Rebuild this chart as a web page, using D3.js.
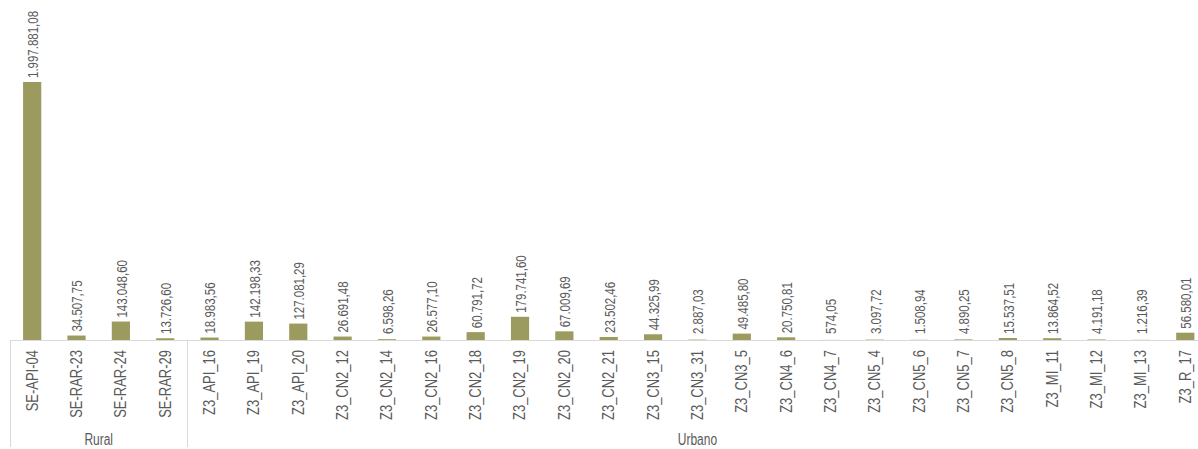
<!DOCTYPE html>
<html>
<head>
<meta charset="utf-8">
<script src="https://cdn.jsdelivr.net/npm/d3@7"></script>
<style>
  body { margin: 0; background: #fff; }
  svg { display: block; font-family: "Liberation Sans", Arial, sans-serif; }
</style>
</head>
<body>
<svg id="chart" width="1198" height="449"></svg>
<script>
// categories and values
const categories = [
  "SE-API-04", "SE-RAR-23", "SE-RAR-24", "SE-RAR-29",
  "Z3_API_16", "Z3_API_19", "Z3_API_20", "Z3_CN2_12", "Z3_CN2_14", "Z3_CN2_16",
  "Z3_CN2_18", "Z3_CN2_19", "Z3_CN2_20", "Z3_CN2_21", "Z3_CN3_15", "Z3_CN3_31",
  "Z3_CN3_5", "Z3_CN4_6", "Z3_CN4_7", "Z3_CN5_4", "Z3_CN5_6", "Z3_CN5_7",
  "Z3_CN5_8", "Z3_MI_11", "Z3_MI_12", "Z3_MI_13", "Z3_R_17"
];
const values = [
  1997881.08, 34507.75, 143048.60, 13726.60,
  18983.56, 142198.33, 127081.29, 26691.48, 6598.26, 26577.10,
  60791.72, 179741.60, 67009.69, 23502.46, 44325.99, 2887.03,
  49485.80, 20750.81, 574.05, 3097.72, 1508.94, 4890.25,
  15537.51, 13864.52, 4191.18, 1216.39, 56580.01
];
const groups = ["Rural", "Urbano"];
const groupSizes = [4, 23];

const BAR_COLOR = "#9b9a5f";
const TEXT_COLOR = "#5a5a5a";
const LINE_COLOR = "#d9d9d9";
const BASE_Y = 340;
const STRETCH = 1.2; // glyphs in the picture look taller than plain Arial

const svg = d3.select("#chart");

const x = d3.scaleBand()
  .domain(categories)
  .range([10, 10 + 44.35 * categories.length])
  .paddingInner(0.59)
  .paddingOuter(0.295);

const y = d3.scaleLinear()
  .domain([0, d3.max(values)])
  .range([BASE_Y, 82]);

const loc = d3.formatLocale({ decimal: ",", thousands: ".", grouping: [3], currency: ["", ""] });
const fmt = loc.format(",.2f");

const data = categories.map((c, i) => ({ cat: c, value: values[i] }));

// bars
svg.append("g").selectAll("rect")
  .data(data)
  .join("rect")
  .attr("x", d => x(d.cat))
  .attr("y", d => y(d.value))
  .attr("width", x.bandwidth())
  .attr("height", d => BASE_Y - y(d.value))
  .attr("fill", BAR_COLOR);

// value labels
svg.append("g").selectAll("text")
  .data(data)
  .join("text")
  .attr("transform", d => `translate(${x(d.cat) + x.bandwidth() / 2 + 1},${Math.min(y(d.value), BASE_Y - 2) - 4}) rotate(-90) scale(1,${STRETCH})`)
  .attr("dy", "0.35em")
  .attr("fill", TEXT_COLOR)
  .attr("font-size", "11.5px")
  .text(d => fmt(d.value));

// axis line
const step = x.step();
const x0 = x.range()[0];
svg.append("line")
  .attr("x1", x0).attr("x2", x.range()[1])
  .attr("y1", BASE_Y + 0.5).attr("y2", BASE_Y + 0.5)
  .attr("stroke", LINE_COLOR);

// category labels
svg.append("g").selectAll("text")
  .data(categories)
  .join("text")
  .attr("transform", c => `translate(${x(c) + x.bandwidth() / 2},${BASE_Y + 10}) rotate(-90) scale(1,${STRETCH})`)
  .attr("dy", "0.35em")
  .attr("text-anchor", "end")
  .attr("fill", TEXT_COLOR)
  .attr("font-size", "13px")
  .text(c => c);

// group separators and labels
let start = 0;
const groupG = svg.append("g");
groups.forEach((g, i) => {
  const gx0 = x0 + start * step;
  const gx1 = x0 + (start + groupSizes[i]) * step;
  groupG.append("line")
    .attr("x1", Math.round(gx0) + 0.5).attr("x2", Math.round(gx0) + 0.5)
    .attr("y1", BASE_Y).attr("y2", 447)
    .attr("stroke", LINE_COLOR);
  groupG.append("text")
    .attr("transform", `translate(${(gx0 + gx1) / 2},445) scale(1,1.3)`)
    .attr("text-anchor", "middle")
    .attr("fill", TEXT_COLOR)
    .attr("font-size", "12px")
    .text(g);
  start += groupSizes[i];
});
</script>
</body>
</html>
